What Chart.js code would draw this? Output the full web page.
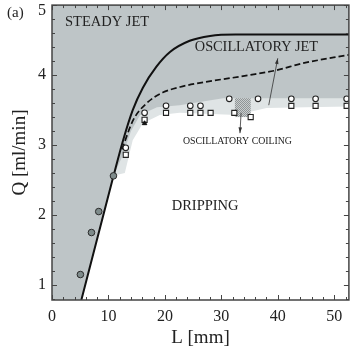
<!DOCTYPE html>
<html>
<head>
<meta charset="utf-8">
<script src="https://cdn.jsdelivr.net/npm/chart.js@4.4.0/dist/chart.umd.min.js"></script>
<style>
  html, body { margin: 0; padding: 0; background: #fff; }
</style>
</head>
<body>
<canvas id="regimeChart" width="354" height="354"></canvas>
<script>
// L in mm, Q in ml/min
const xTicks = [0, 10, 20, 30, 40, 50];
const yTicks = [1, 2, 3, 4, 5];

// steady jet / oscillating boundary (solid) and oscillatory jet boundary (dashed)
const steadyL = [5.2, 10.9, 12.6, 14.3, 16.1, 18.5, 20.9, 24.4, 28.0, 32.5, 52.6];
const steadyQ = [0.786, 2.56, 3.07, 3.5, 3.82, 4.12, 4.33, 4.49, 4.56, 4.58, 4.58];
const oscJetL = [12.4, 14.4, 16.8, 19.6, 22.7, 25.6, 35.0, 39.8, 44.5, 52.6];
const oscJetQ = [2.94, 3.36, 3.6, 3.75, 3.83, 3.88, 4.0, 4.07, 4.17, 4.29];

// shaded regions (lower edges)
const darkL = [0, 5.2, 10.9, 12.4, 14.0, 15.6, 18.6, 22.6, 30.3, 52.6];
const darkQ = [0.786, 0.786, 2.56, 2.83, 3.2, 3.43, 3.54, 3.57, 3.67, 3.67];
const lightL = [10.9, 12.9, 14.3, 16.1, 19.1, 22.6, 32.7, 38.0, 45.0, 52.6];
const lightQ = [2.56, 2.6, 3.07, 3.31, 3.43, 3.46, 3.43, 3.53, 3.54, 3.55];

// measurements
const dripJetL = [5.03, 6.99, 8.28, 10.89];
const dripJetQ = [1.15, 1.75, 2.05, 2.56];
const circleL = [13.07, 16.4, 20.2, 24.5, 26.3, 31.4, 36.5, 42.4, 46.7, 52.2];
const circleQ = [2.96, 3.46, 3.56, 3.56, 3.56, 3.66, 3.66, 3.66, 3.66, 3.66];
const squareL = [13.07, 16.4, 20.2, 24.5, 26.3, 28.1, 32.3, 35.2, 42.4, 46.7, 52.2];
const squareQ = [2.86, 3.36, 3.46, 3.46, 3.46, 3.46, 3.46, 3.40, 3.56, 3.56, 3.56];
const blackL = [16.4];
const blackQ = [3.31];

// oscillatory coiling patch: L from, L to, Q from, Q to
const coilingL = [32.4, 35.2];
const coilingQ = [3.40, 3.67];

const regionLabels = [
    { text: 'STEADY JET', L: 2.3, Q: 4.76, size: 14.5 },
    { text: 'OSCILLATORY JET', L: 25.3, Q: 4.40, size: 14.3 },
    { text: 'OSCILLATORY COILING', L: 23.2, Q: 3.05, size: 9.8 },
    { text: 'DRIPPING', L: 21.2, Q: 2.12, size: 14.5 }
];
const arrows = [
    { from: [38.4, 3.57], to: [40.0, 4.24] },
    { from: [33.5, 3.46], to: [33.3, 3.17] }
];

const xy = (xs, ys) => xs.map((x, i) => ({ x: x, y: ys[i] }));
const serif = '"Liberation Serif", "Times New Roman", serif';

function drawArrow(ctx, x0, y0, x1, y1) {
    const a = Math.atan2(y1 - y0, x1 - x0);
    ctx.beginPath();
    ctx.moveTo(x0, y0);
    ctx.lineTo(x1, y1);
    ctx.stroke();
    ctx.beginPath();
    ctx.moveTo(x1, y1);
    ctx.lineTo(x1 - 6 * Math.cos(a - 0.3), y1 - 6 * Math.sin(a - 0.3));
    ctx.lineTo(x1 - 6 * Math.cos(a + 0.3), y1 - 6 * Math.sin(a + 0.3));
    ctx.closePath();
    ctx.fill();
}

const decor = {
    id: 'decor',
    afterDatasetDraw(chart, args) {
        if (args.index !== 1) return;
        const { ctx, scales: { x, y } } = chart;
        const tile = document.createElement('canvas');
        tile.width = 2; tile.height = 2;
        const t = tile.getContext('2d');
        t.fillStyle = '#c9cdce'; t.fillRect(0, 0, 2, 2);
        t.fillStyle = '#8f9596'; t.fillRect(0, 0, 1, 1); t.fillRect(1, 1, 1, 1);
        ctx.save();
        ctx.fillStyle = ctx.createPattern(tile, 'repeat');
        const x0 = x.getPixelForValue(coilingL[0]), x1 = x.getPixelForValue(coilingL[1]);
        const y0 = y.getPixelForValue(coilingQ[1]), y1 = y.getPixelForValue(coilingQ[0]);
        ctx.fillRect(x0, y0, x1 - x0, y1 - y0);
        ctx.restore();
    },
    afterDatasetsDraw(chart) {
        const { ctx, scales: { x, y } } = chart;
        ctx.save();
        ctx.fillStyle = '#222';
        ctx.textBaseline = 'middle';
        ctx.textAlign = 'left';
        regionLabels.forEach(lb => {
            ctx.font = lb.size + 'px ' + serif;
            ctx.fillText(lb.text, x.getPixelForValue(lb.L), y.getPixelForValue(lb.Q));
        });
        ctx.strokeStyle = '#333';
        ctx.fillStyle = '#333';
        ctx.lineWidth = 0.8;
        arrows.forEach(ar => {
            drawArrow(ctx,
                x.getPixelForValue(ar.from[0]), y.getPixelForValue(ar.from[1]),
                x.getPixelForValue(ar.to[0]), y.getPixelForValue(ar.to[1]));
        });
        ctx.restore();
    },
    afterDraw(chart) {
        const { ctx, chartArea: a, scales: { x, y } } = chart;
        ctx.save();
        ctx.strokeStyle = '#444';
        ctx.lineWidth = 1;
        // inward ticks on all four sides
        for (let v = 0; v <= 52; v += 2) {
            const px = Math.round(x.getPixelForValue(v)) + 0.5;
            const len = v % 10 === 0 ? 5 : 3;
            ctx.beginPath();
            ctx.moveTo(px, a.bottom); ctx.lineTo(px, a.bottom - len);
            ctx.moveTo(px, a.top); ctx.lineTo(px, a.top + len);
            ctx.stroke();
        }
        for (let k = 4; k <= 25; k++) {
            const v = k / 5;
            const py = Math.round(y.getPixelForValue(v)) + 0.5;
            const len = k % 5 === 0 ? 5 : 3;
            ctx.beginPath();
            ctx.moveTo(a.left, py); ctx.lineTo(a.left + len, py);
            ctx.moveTo(a.right, py); ctx.lineTo(a.right - len, py);
            ctx.stroke();
        }
        ctx.lineWidth = 1.5;
        ctx.strokeRect(a.left, a.top, a.right - a.left, a.bottom - a.top);
        ctx.fillStyle = '#222';
        // y tick labels, top one kept inside the canvas
        ctx.font = '16px ' + serif;
        ctx.textAlign = 'right';
        ctx.textBaseline = 'middle';
        yTicks.forEach(v => {
            const py = Math.max(y.getPixelForValue(v), 11);
            ctx.fillText(String(v), a.left - 6, py);
        });
        ctx.textAlign = 'left';
        ctx.font = '15px ' + serif;
        ctx.fillText('(a)', 7, 13);
        ctx.restore();
    }
};

const ctx = document.getElementById('regimeChart').getContext('2d');
const regimeChart = new Chart(ctx, {
    type: 'line',
    data: {
        datasets: [{
            label: 'oscillating band',
            data: xy(lightL, lightQ),
            fill: 'end',
            backgroundColor: '#dfe4e5',
            borderWidth: 0,
            pointRadius: 0,
            tension: 0,
            order: 10
        }, {
            label: 'jet region',
            data: xy(darkL, darkQ),
            fill: 'end',
            backgroundColor: '#bec5c7',
            borderWidth: 0,
            pointRadius: 0,
            tension: 0,
            order: 9
        }, {
            label: 'steady jet boundary',
            data: xy(steadyL, steadyQ),
            borderColor: '#111',
            borderWidth: 2,
            pointRadius: 0,
            fill: false,
            cubicInterpolationMode: 'monotone',
            order: 5
        }, {
            label: 'oscillatory jet boundary',
            data: xy(oscJetL, oscJetQ),
            borderColor: '#111',
            borderWidth: 1.7,
            borderDash: [6, 3],
            pointRadius: 0,
            fill: false,
            cubicInterpolationMode: 'monotone',
            order: 5
        }, {
            label: 'dripping to jet',
            data: xy(dripJetL, dripJetQ),
            showLine: false,
            pointStyle: 'circle',
            pointRadius: 3.3,
            pointBackgroundColor: '#7e8b8b',
            pointBorderColor: '#2b2b2b',
            pointBorderWidth: 1,
            order: 1
        }, {
            label: 'circles',
            data: xy(circleL, circleQ),
            showLine: false,
            pointStyle: 'circle',
            pointRadius: 2.8,
            pointBackgroundColor: '#fff',
            pointBorderColor: '#222',
            pointBorderWidth: 1.1,
            order: 1
        }, {
            label: 'squares',
            data: xy(squareL, squareQ),
            showLine: false,
            pointStyle: 'rect',
            pointRadius: 3.6,
            pointBackgroundColor: '#fff',
            pointBorderColor: '#222',
            pointBorderWidth: 1.1,
            order: 1
        }, {
            label: 'black',
            data: xy(blackL, blackQ),
            showLine: false,
            pointStyle: 'triangle',
            pointRadius: 2.6,
            pointBackgroundColor: '#111',
            pointBorderColor: '#111',
            pointBorderWidth: 1,
            order: 0
        }]
    },
    options: {
        responsive: false,
        animation: false,
        devicePixelRatio: 1,
        layout: { padding: { top: 5, right: 5, left: 0, bottom: 0 } },
        plugins: { legend: { display: false }, tooltip: { enabled: false } },
        scales: {
            x: {
                type: 'linear',
                min: 0,
                max: 52.6,
                grid: { display: false, drawTicks: false },
                border: { display: false },
                afterBuildTicks: s => { s.ticks = xTicks.map(v => ({ value: v })); },
                afterFit: s => { s.height = 54; s.paddingLeft = 0; s.paddingRight = 0; },
                ticks: { color: '#222', padding: 7, font: { family: serif, size: 16 } },
                title: {
                    display: true,
                    text: 'L [mm]',
                    color: '#222',
                    padding: { top: 0, bottom: 5 },
                    font: { family: serif, size: 19 }
                }
            },
            y: {
                type: 'linear',
                min: 0.786,
                max: 5.0,
                grid: { display: false, drawTicks: false },
                border: { display: false },
                afterBuildTicks: s => { s.ticks = yTicks.map(v => ({ value: v })); },
                afterFit: s => { s.width = 52; s.paddingTop = 0; s.paddingBottom = 0; },
                ticks: { display: false },
                title: {
                    display: true,
                    text: 'Q [ml/min]',
                    color: '#222',
                    padding: { top: 9, bottom: 0 },
                    font: { family: serif, size: 19 }
                }
            }
        }
    },
    plugins: [decor]
});
</script>
</body>
</html>
